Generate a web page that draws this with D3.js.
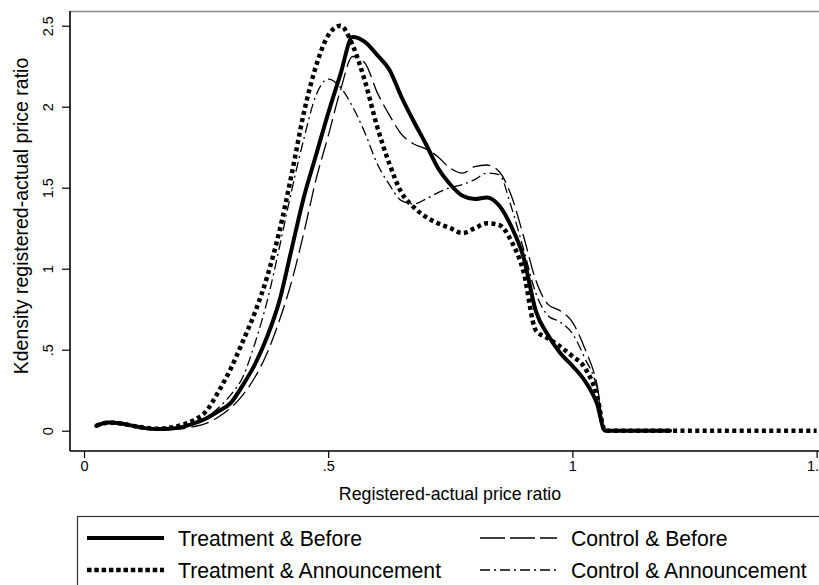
<!DOCTYPE html>
<html>
<head>
<meta charset="utf-8">
<script src="https://cdn.jsdelivr.net/npm/d3@7"></script>
<style>
  html, body { margin: 0; padding: 0; background: #fff; }
  svg { display: block; font-family: Arial, "Liberation Sans", sans-serif; }
</style>
</head>
<body>
<svg id="chart" width="819" height="585"></svg>
<script>
// Evaluation grid of the ratio (x) at which each kernel density is read
const xGrid = [0.025, 0.05, 0.075, 0.1, 0.125, 0.15, 0.175, 0.2, 0.225, 0.25,
  0.275, 0.3, 0.325, 0.35, 0.375, 0.4, 0.425, 0.45, 0.475, 0.5,
  0.525, 0.55, 0.575, 0.6, 0.625, 0.65, 0.675, 0.7, 0.725, 0.75,
  0.775, 0.8, 0.825, 0.85, 0.875, 0.9, 0.925, 0.95, 0.975, 1.0,
  1.025, 1.05, 1.067, 1.1];

// Density estimates per group
const treatBefore = [0.03, 0.05, 0.045, 0.03, 0.016, 0.01, 0.012, 0.022, 0.045, 0.075,
  0.12, 0.17, 0.28, 0.41, 0.58, 0.80, 1.12, 1.44, 1.70, 1.96,
  2.20, 2.43, 2.40, 2.32, 2.23, 2.06, 1.91, 1.77, 1.62, 1.52,
  1.45, 1.43, 1.44, 1.39, 1.26, 1.07, 0.74, 0.59, 0.48, 0.40,
  0.31, 0.17, 0, 0];
const treatAnnounce = [0.03, 0.05, 0.045, 0.03, 0.018, 0.012, 0.018, 0.035, 0.065, 0.12,
  0.24, 0.38, 0.55, 0.73, 0.95, 1.23, 1.58, 1.96, 2.25, 2.44,
  2.50, 2.38, 2.16, 1.88, 1.65, 1.47, 1.38, 1.32, 1.28, 1.25,
  1.22, 1.25, 1.28, 1.27, 1.17, 0.98, 0.62, 0.57, 0.52, 0.46,
  0.39, 0.22, 0, 0];
const controlBefore = [0.03, 0.045, 0.04, 0.028, 0.015, 0.008, 0.008, 0.012, 0.025, 0.045,
  0.085, 0.14, 0.22, 0.33, 0.48, 0.68, 0.92, 1.22, 1.55, 1.82,
  2.10, 2.31, 2.27, 2.09, 1.95, 1.83, 1.77, 1.74, 1.69, 1.62,
  1.59, 1.63, 1.64, 1.60, 1.45, 1.20, 0.93, 0.78, 0.74, 0.67,
  0.51, 0.29, 0, 0];
const controlAnnounce = [0.03, 0.045, 0.04, 0.028, 0.015, 0.01, 0.012, 0.025, 0.045, 0.08,
  0.14, 0.22, 0.33, 0.54, 0.80, 1.13, 1.48, 1.80, 2.07, 2.17,
  2.12, 2.00, 1.84, 1.65, 1.52, 1.42, 1.40, 1.43, 1.47, 1.50,
  1.52, 1.55, 1.59, 1.58, 1.38, 1.12, 0.85, 0.71, 0.67, 0.60,
  0.45, 0.27, 0, 0];

// Upper end of the zero tail for each group (last observed ratio)
const tailEnd = [1.2, 1.5, 1.15, 1.15];

const seriesNames = ["Treatment & Before", "Treatment & Announcement",
  "Control & Before", "Control & Announcement"];

const xTicks = [0, 0.5, 1, 1.5];
const xTickLabels = ["0", ".5", "1", "1.5"];
const yTicks = [0, 0.5, 1, 1.5, 2, 2.5];
const yTickLabels = ["0", ".5", "1", "1.5", "2", "2.5"];

const xTitle = "Registered-actual price ratio";
const yTitle = "Kdensity registered-actual price ratio";

// ---- layout ----
const svg = d3.select("#chart");
const plotLeft = 70, plotTop = 11, plotBottom = 451, plotRight = 830;

const x = d3.scaleLinear().domain([0, 1.5]).range([84, 816.6]);
const y = d3.scaleLinear().domain([0, 2.5]).range([430.7, 25.7]);

// line styles per group
const styles = [
  { width: 4, dash: null, cap: "round", legendDash: null },
  { width: 4.5, dash: "4 3.4", cap: "butt", legendDash: "4.5 2.8" },
  { width: 1.3, dash: "18 6", cap: "butt", legendDash: "25 5" },
  { width: 1.3, dash: "10 4 2 4", cap: "butt", legendDash: "10 4 2 4" }
];

const values = [treatBefore, treatAnnounce, controlBefore, controlAnnounce];

// plot region frame
svg.append("line")
  .attr("x1", plotLeft).attr("x2", plotRight)
  .attr("y1", plotTop + 0.5).attr("y2", plotTop + 0.5)
  .attr("stroke", "#8a8a8a").attr("stroke-width", 1.5);

// curves (drawn so the thick solid ends up on top of the thin ones)
const line = d3.line()
  .x(d => x(d[0]))
  .y(d => y(d[1]))
  .curve(d3.curveMonotoneX);

const drawOrder = [2, 3, 1, 0];
drawOrder.forEach(k => {
  const pts = xGrid.map((xv, i) => [xv, values[k][i]]);
  pts.push([tailEnd[k], 0]);
  const st = styles[k];
  svg.append("path")
    .datum(pts)
    .attr("d", line)
    .attr("fill", "none")
    .attr("stroke", "#000")
    .attr("stroke-width", st.width)
    .attr("stroke-linejoin", "round")
    .attr("stroke-linecap", st.cap)
    .attr("stroke-dasharray", st.dash);
});

// y axis
const yAxis = d3.axisLeft(y)
  .tickValues(yTicks)
  .tickSize(8)
  .tickFormat((d, i) => yTickLabels[i]);
const gy = svg.append("g")
  .attr("transform", `translate(${plotLeft},0)`)
  .call(yAxis);
gy.select(".domain").remove();
gy.selectAll(".tick line").attr("stroke", "#000").attr("stroke-width", 1.2);
gy.selectAll(".tick text")
  .attr("x", null).attr("dy", null)
  .attr("text-anchor", "middle")
  .attr("transform", "translate(-17,0) rotate(-90)")
  .attr("font-size", 14.5)
  .attr("font-family", "Arial, 'Liberation Sans', sans-serif")
  .attr("fill", "#000");
svg.append("line")
  .attr("x1", plotLeft).attr("x2", plotLeft)
  .attr("y1", plotTop).attr("y2", plotBottom)
  .attr("stroke", "#000").attr("stroke-width", 1.6);

// x axis
const xAxis = d3.axisBottom(x)
  .tickValues(xTicks)
  .tickSize(7)
  .tickFormat((d, i) => xTickLabels[i]);
const gx = svg.append("g")
  .attr("transform", `translate(0,${plotBottom})`)
  .call(xAxis);
gx.select(".domain").remove();
gx.selectAll(".tick line").attr("stroke", "#000").attr("stroke-width", 1.2);
gx.selectAll(".tick text")
  .attr("y", 19.5).attr("dy", null)
  .attr("font-size", 14.5)
  .attr("font-family", "Arial, 'Liberation Sans', sans-serif")
  .attr("fill", "#000");
svg.append("line")
  .attr("x1", plotLeft).attr("x2", plotRight)
  .attr("y1", plotBottom).attr("y2", plotBottom)
  .attr("stroke", "#000").attr("stroke-width", 1.6);

// axis titles
svg.append("text")
  .attr("x", 450).attr("y", 500)
  .attr("text-anchor", "middle")
  .attr("font-size", 17.8)
  .text(xTitle);
svg.append("text")
  .attr("transform", "translate(28,216) rotate(-90)")
  .attr("text-anchor", "middle")
  .attr("font-size", 19.5)
  .text(yTitle);

// legend
svg.append("rect")
  .attr("x", 77.5).attr("y", 516.5)
  .attr("width", 760).attr("height", 90)
  .attr("fill", "none").attr("stroke", "#333").attr("stroke-width", 1.2);

const legendCols = [87, 480];
const legendRows = [538, 570];
const legendPos = [[0, 0], [0, 1], [1, 0], [1, 1]];
seriesNames.forEach((name, k) => {
  const lx = legendCols[legendPos[k][0]];
  const ly = legendRows[legendPos[k][1]];
  const st = styles[k];
  svg.append("line")
    .attr("x1", lx).attr("x2", lx + 77)
    .attr("y1", ly).attr("y2", ly)
    .attr("stroke", "#000")
    .attr("stroke-width", st.width)
    .attr("stroke-dasharray", st.legendDash);
  svg.append("text")
    .attr("x", lx + 91).attr("y", ly + 8)
    .attr("font-size", 21.2)
    .text(name);
});
</script>
</body>
</html>
